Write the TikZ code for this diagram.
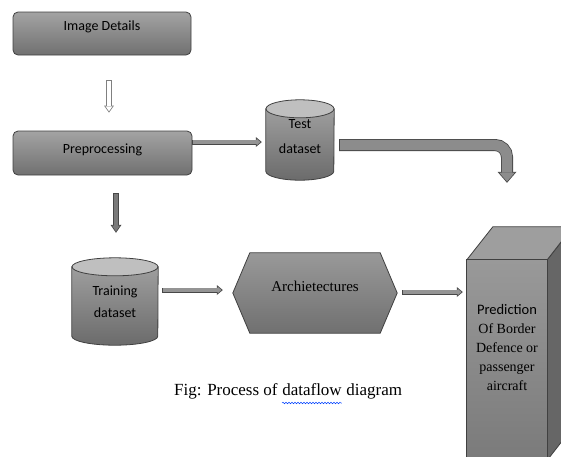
\documentclass[tikz,border=0pt]{standalone}
\usepackage{fontspec}
\setmainfont{Carlito}
\newfontfamily\serif{Liberation Serif}
\newfontfamily\sansf{Carlito}
\usetikzlibrary{arrows.meta,calc,decorations.pathmorphing}
\begin{document}
\begin{tikzpicture}[x=1pt,y=-1pt,
  outl/.style={draw=black!75, line width=0.8pt},
  procbox/.style={rectangle, rounded corners=5pt, outl, top color=black!36, bottom color=black!56, inner sep=0pt},
  ghost/.style={rectangle, inner sep=0pt},
  lbl/.style={font=\sansf\fontsize{14}{17}\selectfont, inner sep=0pt, align=center},
  serl/.style={font=\serif\fontsize{15}{18}\selectfont, inner sep=0pt, align=center},
  captxt/.style={font=\serif\fontsize{17}{20}\selectfont, inner sep=0pt},
  cylbody/.style={outl, top color=black!38, bottom color=black!58},
  cyltop/.style={outl, fill=black!25},
  fatarrow/.style n args={9}{draw=#1, line width=#3,
     -{Triangle[length=#4,width=#5,line width'=0pt]},
     postaction={draw=#2, line width=#6, shorten >=#9, shorten <=0.8pt,
       -{Triangle[length=#7,width=#8,line width'=0pt]}}},
  hollowarr/.style={fatarrow={black!50}{white}{6pt}{7pt}{10pt}{4.4pt}{4.82pt}{6.88pt}{1.38pt}},
  thinarr/.style={fatarrow={black!72}{black!42}{5pt}{6pt}{10pt}{3.4pt}{3.95pt}{6.58pt}{1.25pt}},
  downarr/.style={fatarrow={black!72}{black!52}{6.5pt}{8pt}{11pt}{4.9pt}{5.79pt}{7.96pt}{1.41pt}},
  bigarr/.style={rounded corners=12pt, fatarrow={black!72}{black!45}{12pt}{11pt}{19pt}{10.4pt}{8.98pt}{15.51pt}{1.22pt}},
]
\useasboundingbox (0,0) rectangle (561,456);

% Image Details
\node[procbox, minimum width=178pt, minimum height=43pt] (img) at (102,33.5) {};
\node[lbl] (imgt) at ([yshift=7pt]img.center) {Image Details};

% Preprocessing
\node[procbox, minimum width=179pt, minimum height=44pt] (pre) at (102.5,153) {};
\node[lbl] (pret) at ([yshift=3pt]pre.center) {Preprocessing};

% Test dataset cylinder
\node[ghost, minimum width=68pt, minimum height=80pt] (test) at (300,140) {};
\path[cylbody] ([yshift=-9pt]test.north west) -- ([yshift=9pt]test.south west)
  arc[start angle=180, end angle=0, x radius=34, y radius=9]
  -- ([yshift=-9pt]test.north east) -- cycle;
\path[cyltop] ([yshift=-9pt]test.north) ellipse[x radius=34, y radius=9];
\node[lbl] (testt) at ([yshift=3.5pt]test.center) {Test\\[8pt]dataset};

% Training dataset cylinder
\node[ghost, minimum width=86pt, minimum height=87pt] (train) at (115,301.5) {};
\path[cylbody] ([yshift=-9pt]train.north west) -- ([yshift=9pt]train.south west)
  arc[start angle=180, end angle=0, x radius=43, y radius=9]
  -- ([yshift=-9pt]train.north east) -- cycle;
\path[cyltop] ([yshift=-9pt]train.north) ellipse[x radius=43, y radius=9];
\node[lbl] (traint) at (train.center) {Training\\[5pt]dataset};

% Architectures hexagon
\node[ghost, minimum width=164pt, minimum height=80pt] (arch) at (315,293) {};
\path[outl, top color=black!40, bottom color=black!56] (arch.west) -- ([xshift=17pt]arch.north west)
  -- ([xshift=-17pt]arch.north east) -- (arch.east)
  -- ([xshift=-17pt]arch.south east) -- ([xshift=17pt]arch.south west) -- cycle;
\node[serl] (archt) at ([yshift=7pt]arch.center) {Archietectures};

% Prediction cube
\node[ghost, minimum width=80pt, minimum height=200pt] (pred) at (507,360) {};
\path[outl, fill=black!60] (pred.north east) -- ++(26,-33) -- ++(0,200) -- (pred.south east) -- cycle;
\path[outl, fill=black!38] (pred.north west) -- ++(26,-33) -- ++(80,0) -- (pred.north east) -- cycle;
\path[outl, top color=black!40, bottom color=black!52] (pred.north west) rectangle (pred.south east);
\node[font=\serif\fontsize{14}{19}\selectfont, inner sep=0pt, align=center] (predt) at (507,348)
  {{\sansf\fontsize{14.5}{19}\selectfont Prediction}\\Of Border\\Defence or\\passenger\\aircraft};

% Connectors
\draw[hollowarr] ([xshift=7pt,yshift=-25pt]img.south) -- ([xshift=6.5pt,yshift=18pt]pre.north);
\draw[thinarr] ([yshift=11pt]pre.east) -- ([xshift=-4pt,yshift=-2pt]test.west);
\draw[downarr] ([xshift=13.5pt,yshift=-18pt]pre.south) -- ([xshift=1pt,yshift=25pt]train.north);
\draw[thinarr] ([xshift=4pt,yshift=11.5pt]train.east) -- ([xshift=-10pt,yshift=3pt]arch.west);
\draw[thinarr] ([xshift=5pt,yshift=1pt]arch.east) -- ([xshift=-4pt,yshift=68pt]pred.west);
\coordinate (tipc) at ([yshift=77pt]pred.north);
\draw[bigarr] ([xshift=5pt,yshift=-5pt]test.east) -| (tipc);

% Caption
\node[captxt, anchor=base west] (cap1) at (174,395) {Fig: Process of};
\node[captxt, anchor=base west] (cap2) at ([xshift=4.25pt]cap1.base east) {dataflow};
\node[captxt, anchor=base west] (cap3) at ([xshift=4.25pt]cap2.base east) {diagram};
\draw[blue!75!cyan, line width=0.5pt, decorate, decoration={snake, segment length=3pt, amplitude=0.8pt}]
  ([yshift=-8pt]cap2.base west) -- ([yshift=-8pt]cap2.base east);
\end{tikzpicture}
\end{document}
